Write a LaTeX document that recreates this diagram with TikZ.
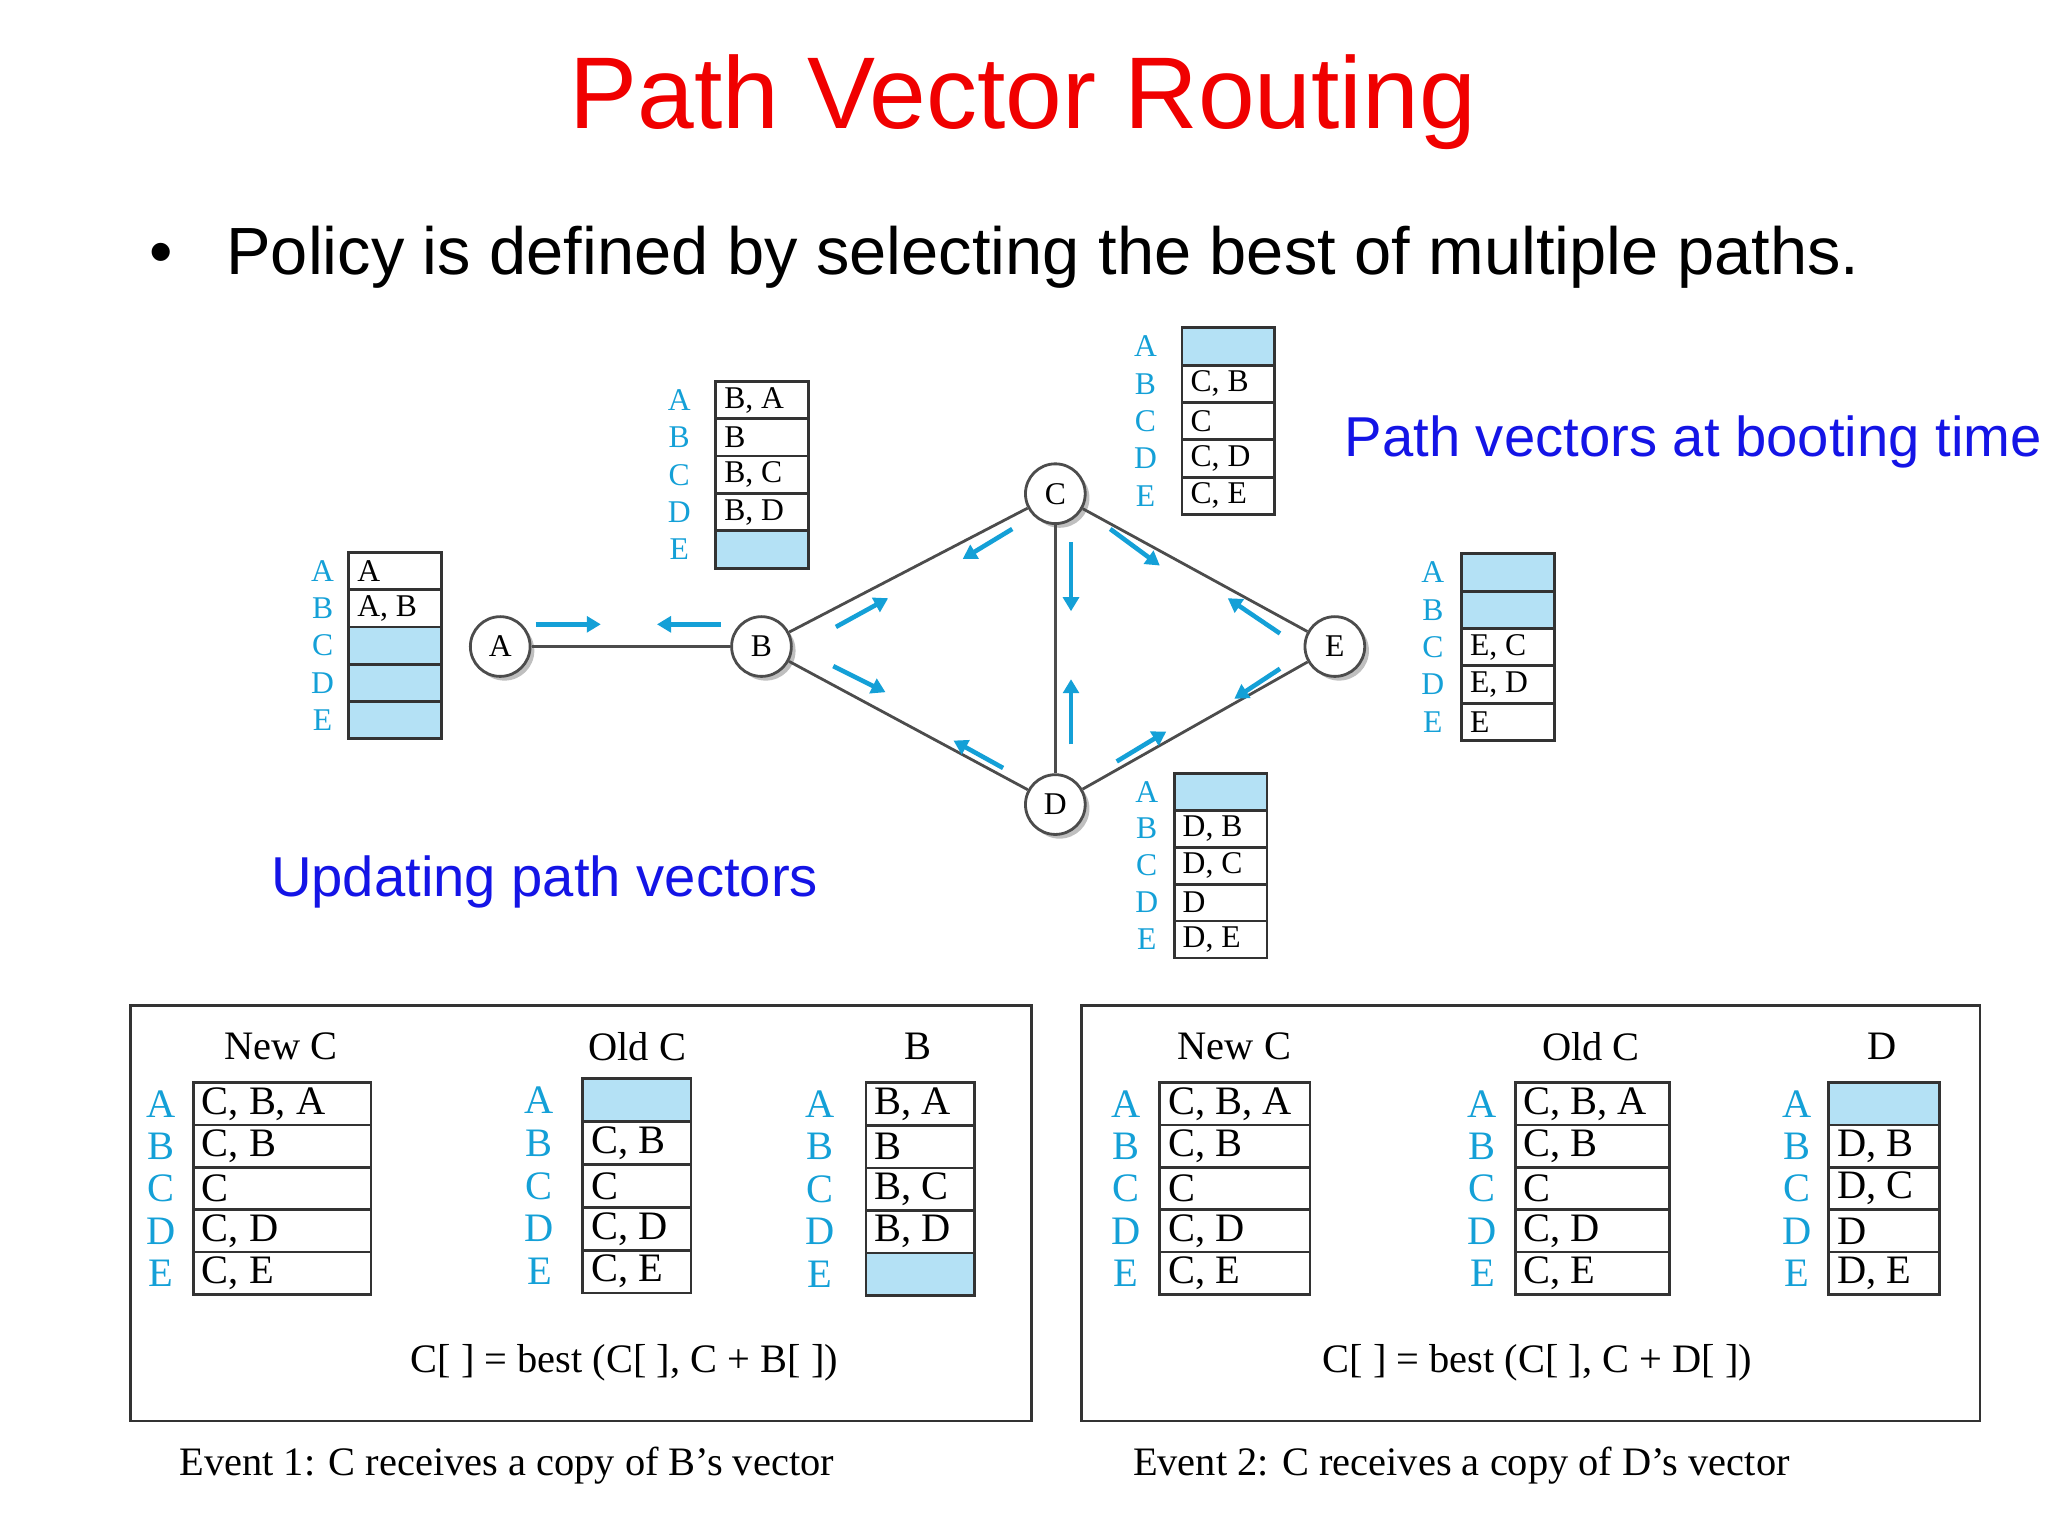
\documentclass[tikz,border=0pt]{standalone}
\usepackage{fontspec}
\setmainfont{Liberation Serif}
\newfontfamily\sans{Liberation Sans}
\usetikzlibrary{shadows,arrows.meta}
\definecolor{cy}{RGB}{20,160,215}
\definecolor{lb}{RGB}{180,225,245}
\definecolor{tred}{RGB}{240,0,0}
\definecolor{tblue}{RGB}{20,20,230}
\tikzset{
 rt/.style={circle,draw=black!70,fill=white,thick,minimum size=17pt,inner sep=0,font=\fontsize{9}{9}\selectfont,drop shadow={shadow xshift=1.2pt,shadow yshift=-1.2pt,fill=black!50}},
 ed/.style={draw=black!70,thick},
 ar/.style={cy,line width=1.3pt,-{Triangle[length=4pt,width=4.5pt]}},
 cell/.style={draw=black!80,thick},
}
\newcommand\ptab[7]{%
 \foreach \e [count=\i] in {#7}{%
  \ifx\e\empty
   \path[cell,fill=lb] (#2,{#4+(\i-1)*#5}) rectangle (#3,{#4+\i*#5});
  \else
   \path[cell] (#2,{#4+(\i-1)*#5}) rectangle (#3,{#4+\i*#5});
   \node[anchor=west,inner sep=0,font=#6] at ({#2+6},{#4+(\i-0.5)*#5}) {\e};
  \fi
 }%
 \foreach \l [count=\i] in {A,B,C,D,E}
  \node[cy,inner sep=0,font=#6] at (#1,{#4+(\i-0.5)*#5}) {\l};
}
\begin{document}
\begin{tikzpicture}[x=0.013061cm,y=-0.013061cm]
\useasboundingbox (0,0) rectangle (1568,1176);
\node[tred,font=\sans\fontsize{29}{29}\selectfont] at (783,78) {Path Vector Routing};
\node[anchor=west,font=\sans\fontsize{19}{19}\selectfont] at (105,197) {\textbullet\hspace{0.8em}Policy is defined by selecting the best of multiple paths.};
\node[tblue,anchor=west,font=\sans\fontsize{16}{16}\selectfont] at (1020,338) {Path vectors at booting time};
\node[tblue,anchor=west,font=\sans\fontsize{16}{16}\selectfont] at (198,675) {Updating path vectors};
% graph
\node[rt] (A) at (383,495) {A};
\node[rt] (B) at (583,495) {B};
\node[rt] (C) at (808,378) {C};
\node[rt] (D) at (808,616) {D};
\node[rt] (E) at (1022,495) {E};
\draw[ed] (A)--(B); \draw[ed] (B)--(C); \draw[ed] (B)--(D);
\draw[ed] (C)--(D); \draw[ed] (C)--(E); \draw[ed] (D)--(E);
\draw[ar] (410,478)--(460,478); \draw[ar] (552,478)--(503,478);
\draw[ar] (640,480)--(680,458); \draw[ar] (775,405)--(737,428);
\draw[ar] (638,510)--(678,530); \draw[ar] (768,588)--(730,567);
\draw[ar] (820,415)--(820,468); \draw[ar] (820,570)--(820,520);
\draw[ar] (850,405)--(888,433); \draw[ar] (980,485)--(940,458);
\draw[ar] (855,583)--(893,560); \draw[ar] (980,512)--(945,535);
% top tables
\def\tf{\fontsize{9}{9}\selectfont}
\ptab{247}{267}{338}{423}{28.5}{\tf}{{A},{A, B},{},{},{}}
\ptab{520}{548}{619}{292}{28.6}{\tf}{{B, A},{B},{B, C},{B, D},{}}
\ptab{877}{905}{976}{251}{28.6}{\tf}{{},{C, B},{C},{C, D},{C, E}}
\ptab{1097}{1119}{1190}{424}{28.6}{\tf}{{},{},{E, C},{E, D},{E}}
\ptab{878}{899}{970}{592}{28.3}{\tf}{{},{D, B},{D, C},{D},{D, E}}
% bottom
\def\bf{\fontsize{11.5}{11.5}\selectfont}
\draw[thick,black!80] (100,770) rectangle (790,1088);
\draw[thick,black!80] (828,770) rectangle (1516,1088);
\node[font=\bf] at (215,801) {New C};
\node[font=\bf] at (488,801) {Old C};
\node[font=\bf] at (703,801) {B};
\node[font=\bf] at (945,801) {New C};
\node[font=\bf] at (1218,801) {Old C};
\node[font=\bf] at (1441,801) {D};
\ptab{123}{148}{284}{829}{32.4}{\bf}{{C, B, A},{C, B},{C},{C, D},{C, E}}
\ptab{413}{446}{529}{826}{32.8}{\bf}{{},{C, B},{C},{C, D},{C, E}}
\ptab{628}{663}{746}{829}{32.6}{\bf}{{B, A},{B},{B, C},{B, D},{}}
\ptab{862}{888}{1003}{829}{32.4}{\bf}{{C, B, A},{C, B},{C},{C, D},{C, E}}
\ptab{1135}{1160}{1278}{829}{32.4}{\bf}{{C, B, A},{C, B},{C},{C, D},{C, E}}
\ptab{1376}{1400}{1485}{829}{32.4}{\bf}{{},{D, B},{D, C},{D},{D, E}}
\node[font=\bf] at (478,1043) {C[ ] = best (C[ ], C + B[ ])};
\node[font=\bf] at (1177,1043) {C[ ] = best (C[ ], C + D[ ])};
\node[anchor=west,font=\bf] at (128,1122) {Event 1: C receives a copy of B’s vector};
\node[anchor=west,font=\bf] at (858,1122) {Event 2: C receives a copy of D’s vector};
\end{tikzpicture}
\end{document}
